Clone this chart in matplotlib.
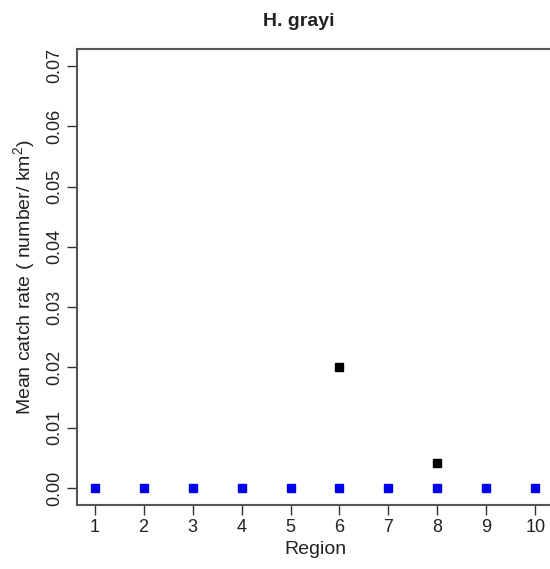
import numpy as np
import matplotlib.pyplot as plt

plt.rcParams['font.family'] = ['Liberation Sans', 'DejaVu Sans']

regions = [1, 2, 3, 4, 5, 6, 7, 8, 9, 10]
catch_black_x = [6, 8]
catch_black_y = [0.020, 0.0041]
catch_blue = [0, 0, 0, 0, 0, 0, 0, 0, 0, 0]
yticks = [0.00, 0.01, 0.02, 0.03, 0.04, 0.05, 0.06, 0.07]

fig = plt.figure(figsize=(5.5, 5.69), dpi=100)
ax = fig.add_axes([77 / 550, 1 - 505 / 569, 476 / 550, 456 / 569])

ax.plot(catch_black_x, catch_black_y, 's', color='black', markersize=5.5, linestyle='none')
ax.plot(regions, catch_blue, 's', color='#0000ee', markersize=5.5, linestyle='none')

ax.set_xlim(0.64, 10.36)
ax.set_ylim(-0.0028, 0.0728)
ax.set_xticks(regions)
ax.set_yticks(yticks)
ax.set_yticklabels(['%.2f' % v for v in yticks], rotation=90, va='center')
ax.tick_params(axis='both', direction='out', length=7, width=1, color='#333333',
               labelsize=13, pad=3, labelcolor='#222222')
for s in ax.spines.values():
    s.set_color('#555555')
    s.set_linewidth(1.5)
# right border falls just outside the picture in the original
ax.spines['right'].set_visible(False)

ax.set_xlabel('Region', fontsize=14, color='#222222', labelpad=4)
ax.set_ylabel('Mean catch rate ( number/ km$^{\\mathdefault{2}}$)', fontsize=14,
              color='#222222', labelpad=6)
fig.text(299 / 550, 1 - 21 / 569, 'H. grayi', fontsize=14, fontweight='bold',
         ha='center', va='center', color='#222222')

plt.savefig('out.png', dpi=100)
